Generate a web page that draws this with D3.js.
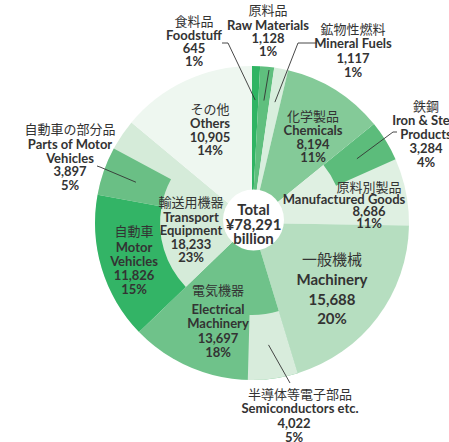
<!DOCTYPE html>
<html>
<head>
<meta charset="utf-8">
<script src="https://cdn.jsdelivr.net/npm/d3@7"></script>
<style>
body{margin:0;background:#fff;}
text{fill:#333;}
.ja{font-family:"Noto Sans CJK JP",sans-serif;font-size:13px;}
.en{font-family:Lato,sans-serif;font-weight:bold;font-size:13px;}
</style>
</head>
<body>
<div id="chart"></div>
<script>
// main categories, clockwise from 12 o'clock
var names = ["Foodstuff","Raw Materials","Mineral Fuels","Chemicals","Manufactured Goods","Machinery","Electrical Machinery","Transport Equipment","Others"];
var namesJa = ["食料品","原料品","鉱物性燃料","化学製品","原料別製品","一般機械","電気機器","輸送用機器","その他"];
var values = [645,1128,1117,8194,8686,15688,13697,18233,10905];
var shares = ["1%","1%","1%","11%","11%","20%","18%","23%","14%"];

// breakdown items drawn in the outer ring of their parent
var subNames = ["Iron & Steel Products","Semiconductors etc.","Motor Vehicles","Parts of Motor Vehicles"];
var subNamesJa = ["鉄鋼","半導体等電子部品","自動車","自動車の部分品"];
var subParents = ["Manufactured Goods","Electrical Machinery","Transport Equipment","Transport Equipment"];
var subValues = [3284,4022,11826,3897];
var subShares = ["4%","5%","15%","5%"];

var totalLabel = ["Total","¥78,291","billion"];

var w = 449, h = 442;
var cx = 252, cy = 223, R = 157, r1 = 92;

var colors = {
	"Foodstuff":"#2fb463","Raw Materials":"#5fbf7e","Mineral Fuels":"#d8eedd","Chemicals":"#84ca98",
	"Manufactured Goods":"#dff0e2","Machinery":"#b6dec0","Electrical Machinery":"#6fc28a",
	"Transport Equipment":"#d5ebd9","Others":"#eef7f0",
	"Iron & Steel Products":"#5cbc7b","Semiconductors etc.":"#d8ecdc","Motor Vehicles":"#33b466",
	"Parts of Motor Vehicles":"#6abf85"
}

// english lines as they wrap on the chart
var enLines = {
	"Iron & Steel Products":["Iron & Steel","Products"],
	"Parts of Motor Vehicles":["Parts of Motor","Vehicles"],
	"Motor Vehicles":["Motor","Vehicles"],
	"Electrical Machinery":["Electrical","Machinery"],
	"Transport Equipment":["Transport","Equipment"]
}

// label layout: x, first baseline, gap after japanese line, line step
var labelPos = {
	"Foodstuff":{x:194,y:26,gap:14,dy:13},
	"Raw Materials":{x:268,y:15,gap:15,dy:13},
	"Mineral Fuels":{x:353,y:34,gap:14,dy:14.5},
	"Chemicals":{x:313,y:121,gap:14,dy:13.5},
	"Manufactured Goods":{x:369,y:192,gap:11.5,dy:12,enx:344},
	"Machinery":{x:332,y:265,gap:20,dy:19.5,size:15},
	"Electrical Machinery":{x:218,y:295,gap:19,dy:14.3},
	"Transport Equipment":{x:191,y:207,gap:14.5,dy:13.5},
	"Others":{x:210,y:114,gap:14,dy:13.5},
	"Iron & Steel Products":{x:426,y:111,gap:14,dy:14},
	"Semiconductors etc.":{x:300,y:399,gap:14,dy:14.5,nx:294},
	"Motor Vehicles":{x:134,y:236,gap:16,dy:14},
	"Parts of Motor Vehicles":{x:70,y:134,gap:15,dy:13.5}
}

// leader lines: label end points (the slice end is found from the arc)
var leaders = {
	"Foodstuff":[[222,43],[228,43]],
	"Raw Materials":[[269,70]],
	"Mineral Fuels":[[317,43],[298,43]],
	"Iron & Steel Products":[[397,132],[393,132]],
	"Semiconductors etc.":[[290,383]],
	"Parts of Motor Vehicles":[[97,166],[100,167]]
}

var svg = d3.select("#chart").append("svg")
	.attr("width", w)
	.attr("height", h)
	.style("background", "#fff");

var g = svg.append("g").attr("transform","translate("+cx+","+cy+")");

var data = names.map(function(d,i){return {name:d, ja:namesJa[i], value:values[i], share:shares[i]}});
var pie = d3.pie().sort(null).value(function(d){return d.value});
var arcs = pie(data);

var total = d3.sum(values);
var ang = d3.scaleLinear().domain([0,total]).range([0,2*Math.PI]);

// sub slices start at parent's start angle
var offsets = {};
var subArcs = subNames.map(function(d,i){
	var p = arcs.find(function(a){return a.data.name==subParents[i]});
	var off = offsets[subParents[i]] || 0;
	offsets[subParents[i]] = off + subValues[i];
	var s = p.startAngle + ang(off);
	return {startAngle:s, endAngle:s+ang(subValues[i]), data:{name:d, ja:subNamesJa[i], value:subValues[i], share:subShares[i]}};
});

var arcMain = d3.arc().innerRadius(0).outerRadius(R);
var arcSub = d3.arc().innerRadius(r1).outerRadius(R);

g.selectAll("path.main").data(arcs).enter().append("path")
	.attr("class","main")
	.attr("d", arcMain)
	.style("fill", function(d){return colors[d.data.name]});

g.selectAll("path.sub").data(subArcs).enter().append("path")
	.attr("class","sub")
	.attr("d", arcSub)
	.style("fill", function(d){return colors[d.data.name]});

// white hole
svg.append("circle").attr("cx",253.5).attr("cy",220).attr("r",30.5).style("fill","#fff");

// leader lines
var all = arcs.concat(subArcs);
var line = d3.line();
all.forEach(function(a){
	var pts = leaders[a.data.name];
	if(!pts) return;
	var m = (a.startAngle+a.endAngle)/2;
	var end = [cx + 123*Math.sin(m), cy - 123*Math.cos(m)];
	svg.append("path")
		.attr("d", line(pts.concat([end])))
		.style("fill","none")
		.style("stroke","#333")
		.style("stroke-width",0.9);
});

// labels
all.forEach(function(a){
	var d = a.data, p = labelPos[d.name];
	var size = p.size || 13;
	var en = enLines[d.name] || [d.name];
	var t = svg.append("g");
	t.append("text").attr("class","ja")
		.attr("x",p.x).attr("y",p.y)
		.attr("text-anchor","middle")
		.style("font-size",size+"px")
		.text(d.ja);
	var rows = en.map(function(s){return {s:s, x:p.enx||p.x}})
		.concat([{s:d3.format(",")(d.value), x:p.nx||p.x},{s:d.share, x:p.nx||p.x}]);
	rows.forEach(function(r,i){
		t.append("text").attr("class","en")
			.attr("x",r.x).attr("y",p.y+p.gap+i*p.dy)
			.attr("text-anchor","middle")
			.style("font-size",size+"px")
			.text(r.s);
	});
});

// total in the middle
svg.selectAll("text.total").data(totalLabel).enter().append("text")
	.attr("class","en total")
	.attr("x",253.5)
	.attr("y",function(d,i){return 215+i*14.5})
	.attr("text-anchor","middle")
	.style("font-size","15px")
	.text(function(d){return d});
</script>
</body>
</html>
